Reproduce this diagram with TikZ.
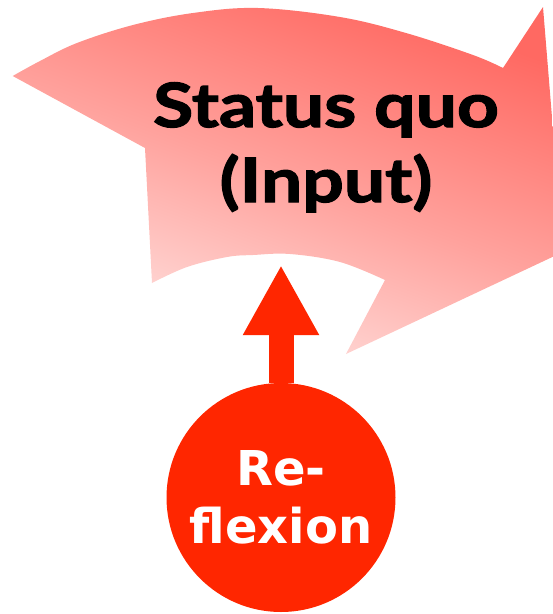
\documentclass[tikz,border=0pt]{standalone}
\usepackage{fontspec}
\setmainfont{Lato}
\newfontfamily\titlefont{Lato}[FakeStretch=1.2, BoldFeatures={FakeBold=2.2, FakeStretch=1.2}]
\newfontfamily\circfont{DejaVu Sans}
\usetikzlibrary{arrows.meta}
\definecolor{arrdark}{RGB}{255,105,98}
\definecolor{arrmid}{RGB}{255,162,157}
\definecolor{arrlight}{RGB}{255,228,226}
\definecolor{reflred}{RGB}{255,38,0}
\tikzset{
  bigarrow/.style={top color=arrdark, bottom color=arrlight, middle color=arrmid, shading angle=-20},
  titletxt/.style={align=center, font=\titlefont\bfseries\fontsize{61}{75}\selectfont, inner sep=0pt},
  reflcirc/.style={circle, fill=reflred, minimum size=229pt, inner sep=0pt},
  refltxt/.style={align=center, text=white, font=\circfont\bfseries\fontsize{48}{58}\selectfont, inner sep=0pt},
  uparrow/.style={draw=reflred, line width=25pt, -{Triangle[length=70pt, width=71pt]}}
}
\begin{document}
\begin{tikzpicture}[x=1pt, y=-1pt]
\useasboundingbox (0,0) rectangle (553,614);
\clip (0,0) rectangle (553,614);
% big curved arrow
\path[bigarrow] plot[smooth, tension=0.6] coordinates {(12.7,76) (40,61) (77,43) (133,25) (193,13) (258,8) (340,17) (406,33) (473,55) (503,68)}
  -- (543,7) -- (563,252) -- (346,354) -- (385,280)
  -- plot[smooth, tension=0.6] coordinates {(385,280) (340,262) (290,254) (253,255) (227,257) (187,267) (152,283)}
  -- (145,148) -- cycle;
\node[titletxt, anchor=base] (status) at (326,202) {Status quo\\(Input)};
% reflexion circle
\node[reflcirc] (refl) at (281,497.5) {};
\coordinate (tip) at (281,265);
\draw[uparrow] (refl.north) -- (tip);
\node[refltxt] (refltext) at (refl.center) {Re-\\flexion};
\end{tikzpicture}
\end{document}
